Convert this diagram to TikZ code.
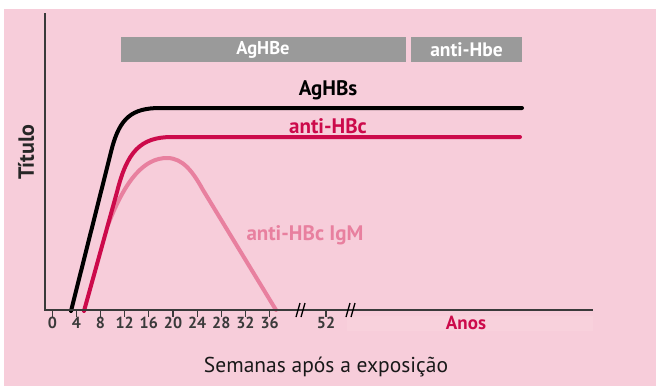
\documentclass[tikz,border=0pt]{standalone}
\usepackage{fontspec}
\setmainfont{PT Sans}
\definecolor{bgpink}{HTML}{F7CDDA}
\definecolor{bandpink}{HTML}{F8D1DC}
\definecolor{crim}{HTML}{CC0A4B}
\definecolor{igm}{HTML}{E8809F}
\definecolor{barg}{HTML}{9A9A9A}
\definecolor{axisc}{HTML}{3A3A3A}
\tikzset{
  lbl/.style={inner sep=0pt, font=\fontsize{21}{21}\selectfont\bfseries},
  barlbl/.style={inner sep=0pt, text=white, font=\fontsize{18.5}{18.5}\selectfont\bfseries},
  ticklbl/.style={inner sep=0pt, font=\fontsize{16}{16}\selectfont\bfseries, text=axisc},
  curve/.style={line width=4pt, line cap=round, line join=round},
  axisline/.style={line width=1.5pt, draw=axisc},
  tickmark/.style={line width=1.2pt, draw=axisc},
  brk/.style={line width=1.3pt, draw=black},
}
\begin{document}
\begin{tikzpicture}[x=1pt,y=-1pt]
\useasboundingbox (0,0) rectangle (656,389);
\fill[white] (0,0) rectangle (656,389);
\fill[bgpink] (4,9) rectangle (656,386);
\fill[bandpink] (347,316) rectangle (593,331);
% bars
\fill[barg] (120.5,37) rectangle (406,62);
\fill[barg] (411,37) rectangle (522,62);
\node[barlbl] (aghbe) at (263,49.5) {AgHBe};
\node[barlbl, font=\fontsize{19.5}{19.5}\selectfont\bfseries] (antihbe) at (466.5,49.5) {anti-Hbe};
% curves
\draw[curve, igm] (108,225) .. controls (126,178) and (145,158) .. (167,158)
   .. controls (183,158) and (193,172) .. (203,190) -- (276,310);
\draw[curve, crim] (84,311) -- (117,192) .. controls (127,152) and (140,137) .. (172,137) -- (520,137);
\draw[curve, black] (71,311) -- (112,148) .. controls (120,118) and (132,108) .. (160,108) -- (522,108);
% axes
\draw[axisline] (45,13) -- (45,310) -- (593,310);
% ticks
\foreach \w/\xx in {0/52.3,4/76.4,8/100.5,12/124.7,16/148.8,20/173,24/197.1,28/221.3,32/245.4,36/269.6,52/326}{
  \draw[tickmark] (\xx,310) -- (\xx,317);
  \node[ticklbl] (t\w) at (\xx,323) {\w};
}
% breaks
\foreach \bx in {300,350}{
  \draw[brk] (\bx-4,317) -- (\bx,303);
  \draw[brk] (\bx+1,317) -- (\bx+5,303);
}
% labels
\node[lbl] (aghbs) at (328,90) {AgHBs};
\node[lbl, text=crim] (antihbc) at (328,126) {anti-HBc};
\node[lbl, text=igm] (igmlbl) at (305,235) {anti-HBc IgM};
\node[inner sep=0pt, font=\fontsize{19}{19}\selectfont\bfseries, text=crim] (anos) at (466,323) {Anos};
\node[inner sep=0pt, font=\fontsize{21.5}{21.5}\selectfont, text=black!90] (xlab) at (326,367) {Semanas após a exposição};
\node[inner sep=0pt, rotate=90, font=\fontsize{22}{22}\selectfont\bfseries, text=black!85] (ylab) at (26,152) {Título};
\end{tikzpicture}
\end{document}
